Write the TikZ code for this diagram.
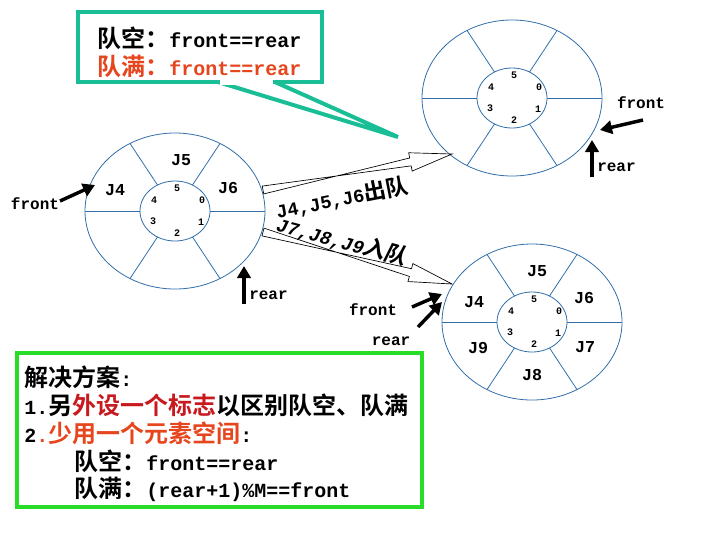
\documentclass[tikz,border=0pt]{standalone}
\usepackage{fontspec}
\setmainfont{Liberation Serif}
\newfontfamily\mb{Liberation Mono}[UprightFont=* Bold]
\newfontfamily\cjk[Scale=1.2]{Noto Sans CJK SC}[UprightFont=* Bold]
\usetikzlibrary{calc,arrows.meta}
\definecolor{ringc}{RGB}{50,110,170}
\definecolor{tealc}{RGB}{25,190,150}
\definecolor{greenc}{RGB}{40,220,40}
\definecolor{redc}{RGB}{200,25,30}
\definecolor{orc}{RGB}{230,70,30}
\tikzset{
  ringline/.style={draw=ringc, line width=0.6pt},
  jl/.style={font=\mb\fontsize{12.5}{13}\selectfont, inner sep=0pt},
  al/.style={font=\mb\fontsize{14}{14}\selectfont, inner sep=0pt},
  dl/.style={font=\mb\fontsize{7.5}{8}\selectfont, inner sep=0pt},
  lab/.style={font=\mb\fontsize{12}{12}\selectfont, inner sep=0pt},
  ptr/.style={line width=2.6pt, -{Triangle[length=9pt,width=10pt]}},
  big/.style={font=\mb\fontsize{15}{15}\selectfont, inner sep=0pt, anchor=west},
  hollow/.style={draw=black, fill=white, line width=0.5pt},
}
\newcommand{\myring}[2]{%
  \coordinate (#1) at (#2);
  \draw[ringline] (#1) ellipse [x radius=90, y radius=78];
  \draw[ringline] (#1) ellipse [x radius=35, y radius=30];
  \foreach \a in {0,60,120,180,240,300}
    \draw[ringline] ($(#1)+({35*cos(\a)},{-30*sin(\a)})$) -- ($(#1)+({90*cos(\a)},{-78*sin(\a)})$);
  \node[dl] at ($(#1)+(2,-23)$) {5};
  \node[dl] at ($(#1)+(-21,-11)$) {4};
  \node[dl] at ($(#1)+(27,-11)$) {0};
  \node[dl] at ($(#1)+(-22,10)$) {3};
  \node[dl] at ($(#1)+(2,22)$) {2};
  \node[dl] at ($(#1)+(26,11)$) {1};
}
\newcommand{\hollowarrow}[2]{%
  \draw[hollow] ($(#1)!3pt!90:(#2)$) -- ($(#1)!0.78!(#2)!3pt!-90:(#2)$)
     -- ($(#1)!0.78!(#2)!7pt!-90:(#2)$) -- (#2)
     -- ($(#1)!0.78!(#2)!7pt!90:(#2)$) -- ($(#1)!0.78!(#2)!3pt!90:(#2)$)
     -- ($(#1)!3pt!-90:(#2)$) -- cycle;
}
\begin{document}
\begin{tikzpicture}[x=0.75pt,y=-0.75pt]
\useasboundingbox (0,0) rectangle (720,540);
% callout
\draw[tealc, line width=3pt, fill=white] (218,82) -- (398,137) -- (275,82);
\draw[tealc, line width=3pt, fill=white] (78,12) rectangle (322,82);
\fill[white] (220,79) rectangle (273,85);
\node[big] (c1) at (97,38) {{\cjk 队空：}front==rear};
\node[big, text=orc] (c2) at (97,66) {{\cjk 队满：}front==rear};
% rings
\myring{L}{175,211}
\myring{T}{512,98}
\myring{B}{532,322}
\node[jl] at ($(L)+(6,-51)$) {J5};
\node[jl] at ($(L)+(-60,-21)$) {J4};
\node[jl] at ($(L)+(53,-23)$) {J6};
\node[jl] at ($(B)+(5,-51)$) {J5};
\node[jl] at ($(B)+(52,-24)$) {J6};
\node[jl] at ($(B)+(-58,-20)$) {J4};
\node[jl] at ($(B)+(-54,26)$) {J9};
\node[jl] at ($(B)+(53,25)$) {J7};
\node[jl] at ($(B)+(0,53)$) {J8};
% hollow arrows
\coordinate (a1s) at (263,190); \coordinate (a1e) at (452,154);
\coordinate (a2s) at (263,232); \coordinate (a2e) at (452,284);
\hollowarrow{a1s}{a1e}
\hollowarrow{a2s}{a2e}
\node[al, rotate=11] (t1) at (342,198) {J4,J5,J6{\cjk 出队}};
\node[al, rotate=-15, xslant=0.2] (t2) at (343,241) {J7,J8,J9{\cjk 入队}};
% pointers
\node[lab] (fl) at (35,204) {front};
\coordinate (flp) at (95,185); \coordinate (fls) at (60,201);
\draw[ptr] (fls) -- (flp);
\node[lab, anchor=west] (rl) at (249,295) {rear};
\coordinate (rls) at (244,304); \coordinate (rlp) at (244,266);
\draw[ptr] (rls) -- (rlp);
\node[lab] (ft) at (641,103) {front};
\coordinate (fts) at (643,120); \coordinate (ftp) at (600,130);
\draw[ptr] (fts) -- (ftp);
\node[lab, anchor=west] (rt) at (597,167) {rear};
\coordinate (rts) at (592,177); \coordinate (rtp) at (592,140);
\draw[ptr] (rts) -- (rtp);
\node[lab] (fb) at (373,310) {front};
\coordinate (fbs) at (412,307); \coordinate (fbp) at (442,294);
\draw[ptr] (fbs) -- (fbp);
\node[lab] (rb) at (391,341) {rear};
\coordinate (rbs) at (418,327); \coordinate (rbp) at (442,302);
\draw[ptr] (rbs) -- (rbp);
% solution box
\draw[greenc, line width=3pt] (17,353) rectangle (422,507);
\node[big] (s1) at (24,377) {{\cjk 解决方案}:};
\node[big] (s2) at (24,405) {1.{\cjk 另\textcolor{redc}{外设一个标志}以区别队空、队满}};
\node[big] (s3) at (24,433) {2\textcolor{orc}{.}{\cjk\textcolor{orc}{少用一个元素空间}}:};
\node[big] (s4) at (74,461) {{\cjk 队空：}front==rear};
\node[big] (s5) at (74,489) {{\cjk 队满：}(rear+1)\%M==front};
\end{tikzpicture}
\end{document}
